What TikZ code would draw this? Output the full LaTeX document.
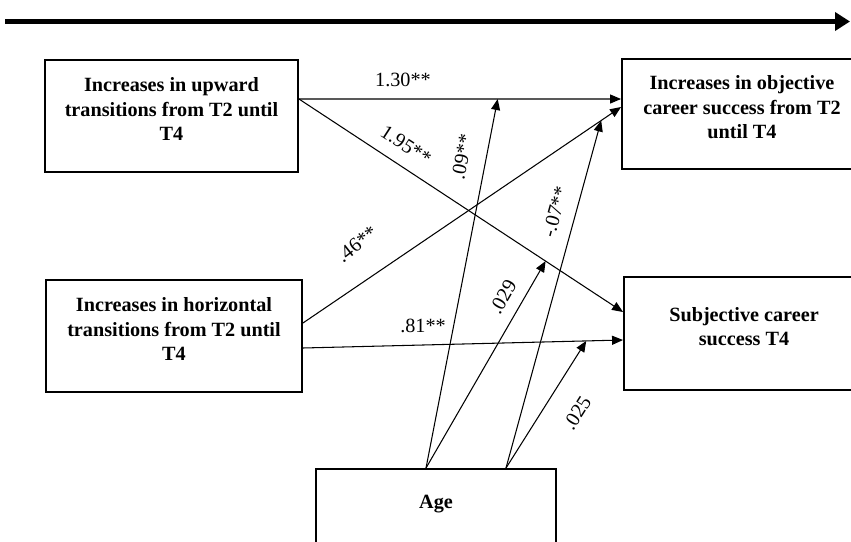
\documentclass[tikz,border=0pt]{standalone}
\usepackage{fontspec}
\setmainfont{Liberation Serif}
\usetikzlibrary{arrows.meta, positioning}

\begin{document}
\begin{tikzpicture}[
    x=0.02cm, y=-0.02cm,
    block/.style={rectangle, draw, line width=1.1pt, align=center, font=\fontsize{11.5}{14.2}\selectfont\bfseries, execute at end node={\rule[-0.28cm]{0pt}{0pt}}},
    arrow/.style={-{Triangle[length=0.22cm, width=0.18cm]}, line width=0.6pt},
    timeline/.style={-{Triangle[length=0.3cm, width=0.36cm]}, line width=0.12cm},
    coef/.style={font=\fontsize{11.5}{14.2}\selectfont, inner sep=1pt}
]
\useasboundingbox (0,0) rectangle (851,541);
\clip (0,0) rectangle (851,541);

\coordinate (tstart) at (5,21.5);
\coordinate (tend) at (850,21.5);
\draw[timeline] (tstart) -- (tend);

\node[block, minimum width=5.06cm, minimum height=2.24cm] (up) at (171.5,116) {Increases in upward\\transitions from T2 until\\T4};
\node[block, minimum width=5.12cm, minimum height=2.24cm] (hor) at (174,336) {Increases in horizontal\\transitions from T2 until\\T4};
\node[block, minimum width=4.8cm, minimum height=2.2cm] (obj) at (742,114) {Increases in objective\\career success from T2\\until T4};
\node[block, minimum width=4.8cm, minimum height=2.26cm] (subj) at (744,333.5) {Subjective career\\success T4};
\node[block, minimum width=4.8cm, minimum height=1.6cm] (age) at (436,509) {Age};

\draw[arrow] ([yshift=0.34cm]up.east) -- ([yshift=0.3cm]obj.west) coordinate[pos=0.617] (mUO);
\draw[arrow] ([yshift=0.34cm]up.east) -- ([yshift=0.43cm]subj.west) coordinate[pos=0.761] (mUS);
\draw[arrow] ([yshift=0.26cm]hor.east) -- ([yshift=0.14cm]obj.west) coordinate[pos=0.9375] (mHO);
\draw[arrow] ([yshift=-0.24cm]hor.east) -- ([yshift=-0.13cm]subj.west) coordinate[pos=0.885] (mHS);

\draw[arrow] ([xshift=-0.2cm]age.north) -- (mUO);
\draw[arrow] ([xshift=-0.2cm]age.north) -- (mUS);
\draw[arrow] ([xshift=1.4cm]age.north) -- (mHO);
\draw[arrow] ([xshift=1.4cm]age.north) -- (mHS);

\node[coef] (c130) at (403,80) {1.30**};
\node[coef, rotate=-33] (c195) at (406,145) {1.95**};
\node[coef, rotate=38] (c46) at (357,244) {.46**};
\node[coef] (c81) at (423,326) {.81**};
\node[coef, rotate=79] (c09) at (462,157) {.09**};
\node[coef, rotate=60] (c029) at (503,297) {.029};
\node[coef, rotate=74.5] (c07) at (555,212) {-.07**};
\node[coef, rotate=57.5] (c025) at (577,413) {.025};
\end{tikzpicture}
\end{document}
